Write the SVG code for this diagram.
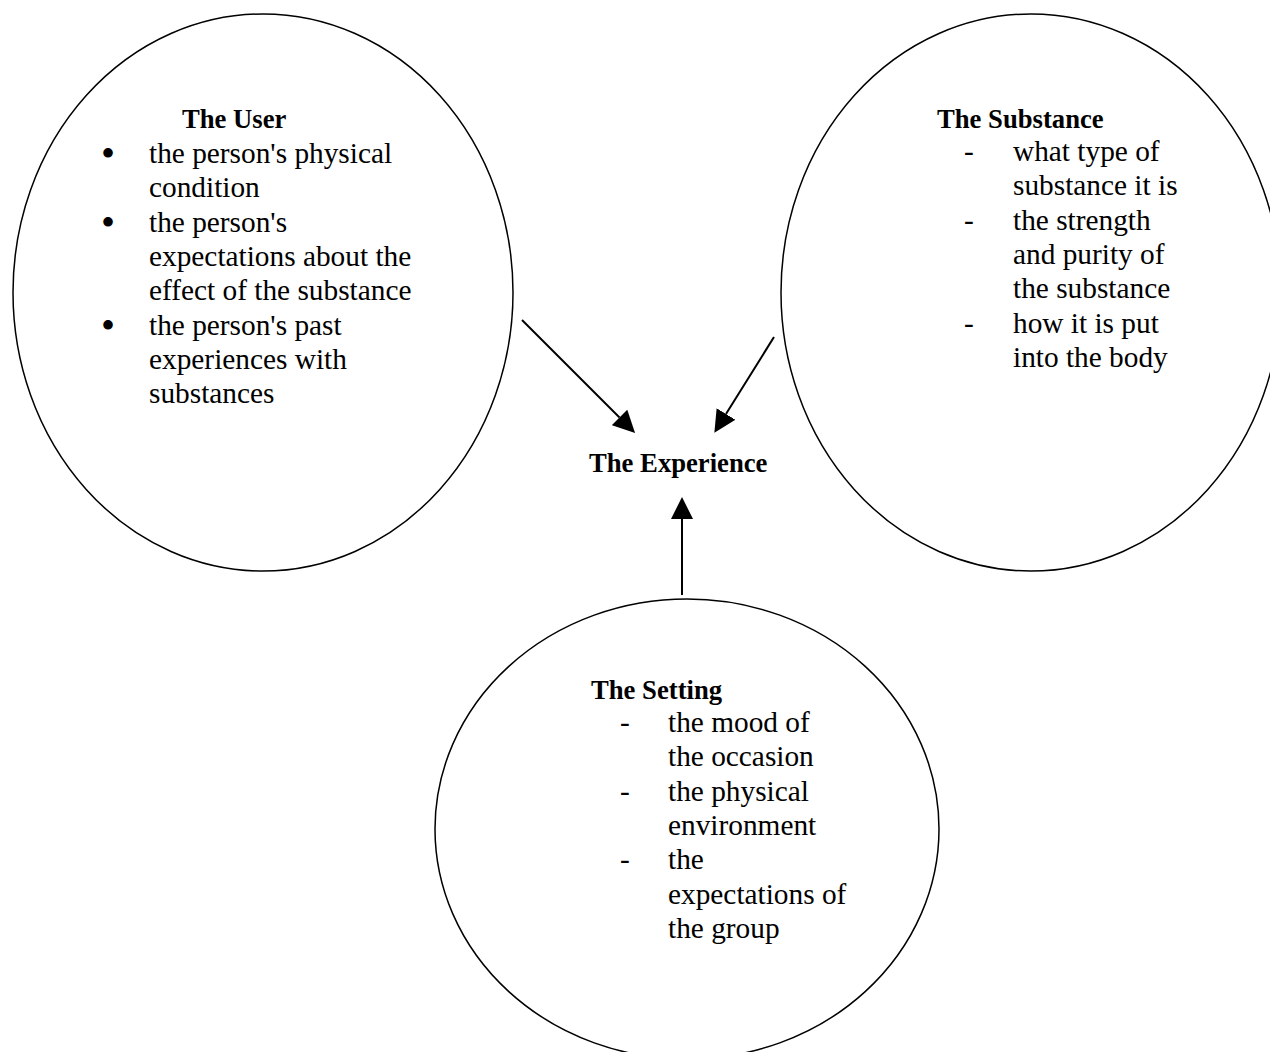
<svg xmlns="http://www.w3.org/2000/svg" width="1270" height="1052" viewBox="0 0 1270 1052">
<style>
.node{fill:none;stroke:#000;stroke-width:1.5}
.t{font-family:"Liberation Serif","Times New Roman",serif;font-size:29.33px;fill:#000}
.h{font-family:"Liberation Serif","Times New Roman",serif;font-size:26.67px;font-weight:bold;fill:#000}
.b{font-family:"Liberation Serif","Times New Roman",serif;font-size:40px;fill:#000}
.edge{fill:none;stroke:#000;stroke-width:2;marker-end:url(#arrow)}
</style>
<defs>
<marker id="arrow" viewBox="0 0 22 22" refX="0" refY="11" markerWidth="22" markerHeight="22" markerUnits="userSpaceOnUse" orient="auto">
<path d="M0,0 L22,11 L0,22 z" fill="#000"/>
</marker>
</defs>
<rect width="1270" height="1052" fill="#fff"/>
<g id="connectors">
<line class="edge" x1="522" y1="320" x2="619.5" y2="417.5"/>
<line class="edge" x1="774" y1="337" x2="726" y2="414"/>
<line class="edge" x1="682" y1="595" x2="682" y2="519"/>
</g>
<g id="user">
<ellipse class="node" cx="263" cy="292.5" rx="250" ry="278.5"/>
<text class="h" x="182" y="128">The User</text>
<text class="b" x="101" y="167">•</text>
<text class="b" x="101" y="235.6">•</text>
<text class="b" x="101" y="338.5">•</text>
<text class="t" x="149" y="163">the person's physical</text>
<text class="t" x="149" y="197.3">condition</text>
<text class="t" x="149" y="231.6">the person's</text>
<text class="t" x="149" y="265.9">expectations about the</text>
<text class="t" x="149" y="300.2">effect of the substance</text>
<text class="t" x="149" y="334.5">the person's past</text>
<text class="t" x="149" y="368.8">experiences with</text>
<text class="t" x="149" y="403.1">substances</text>
</g>
<g id="substance">
<ellipse class="node" cx="1031" cy="292.5" rx="250" ry="278.5"/>
<text class="h" x="937" y="128">The Substance</text>
<text class="t" x="964" y="161">-</text>
<text class="t" x="964" y="229.6">-</text>
<text class="t" x="964" y="332.5">-</text>
<text class="t" x="1013" y="161">what type of</text>
<text class="t" x="1013" y="195.3">substance it is</text>
<text class="t" x="1013" y="229.6">the strength</text>
<text class="t" x="1013" y="263.9">and purity of</text>
<text class="t" x="1013" y="298.2">the substance</text>
<text class="t" x="1013" y="332.5">how it is put</text>
<text class="t" x="1013" y="366.8">into the body</text>
</g>
<g id="experience">
<text class="h" x="589" y="472">The Experience</text>
</g>
<g id="setting">
<ellipse class="node" cx="687" cy="829" rx="252" ry="230"/>
<text class="h" x="591" y="699">The Setting</text>
<text class="t" x="620" y="732">-</text>
<text class="t" x="620" y="800.6">-</text>
<text class="t" x="620" y="869.2">-</text>
<text class="t" x="668" y="732">the mood of</text>
<text class="t" x="668" y="766.3">the occasion</text>
<text class="t" x="668" y="800.6">the physical</text>
<text class="t" x="668" y="834.9">environment</text>
<text class="t" x="668" y="869.2">the</text>
<text class="t" x="668" y="903.5">expectations of</text>
<text class="t" x="668" y="937.8">the group</text>
</g>
</svg>
